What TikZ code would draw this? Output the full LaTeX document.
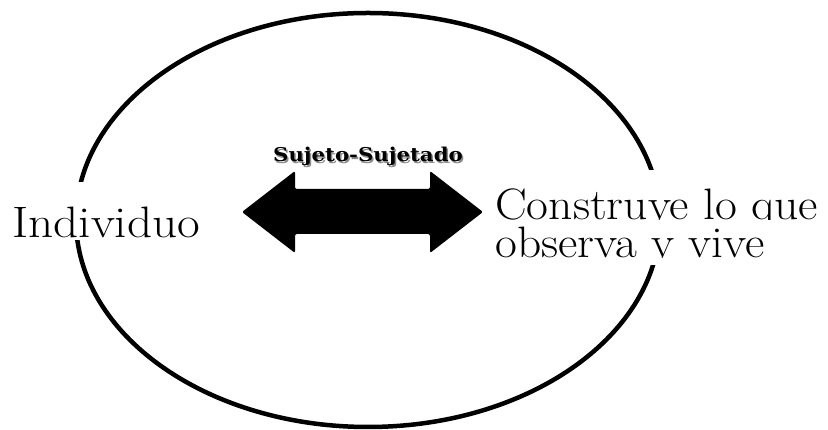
\documentclass[tikz,border=0pt]{standalone}
\usepackage{fontspec}
\newfontfamily\slabfont{DejaVu Serif}
\begin{document}
\begin{tikzpicture}[x=1pt,y=1pt,
  bigtext/.style={font=\fontsize{44}{44}\selectfont, inner sep=0pt, anchor=base west, text depth=0pt},
  whitebox/.style={fill=white, inner sep=0pt, draw=none},
  ring/.style={line width=4.5pt},
  bigarrow/.style={fill=black, rounded corners=2pt},
  labtext/.style={font=\slabfont\bfseries\fontsize{19}{19}\selectfont, anchor=base, inner sep=0pt}]
\useasboundingbox (0,0) rectangle (828,430);
% ellipse
\draw[ring] (368,210) ellipse [x radius=292, y radius=207];
% white backgrounds hiding the ring behind the texts
\node[whitebox, anchor=south west, minimum width=215, minimum height=58] (lbg) at (0,190) {};
\node[whitebox, anchor=south west, minimum width=343, minimum height=95] (rbg) at (485,165) {};
% texts
\node[bigtext] (ind) at (12,192) {\scalebox{1.12}[1]{Individuo}};
\begin{scope}
  \clip (485,210) rectangle (828,262);
  \node[bigtext] (con1) at (495,210) {\scalebox{1.08}[1]{Construye lo que}};
\end{scope}
\begin{scope}
  \clip (485,172) rectangle (828,209);
  \node[bigtext] (con2) at (495,172) {\scalebox{1.08}[1]{observa y vive}};
\end{scope}
% double arrow
\fill[bigarrow] (242,218) -- (295,259) -- (295,241) -- (430,241) -- (430,259) -- (483,218)
  -- (430,177) -- (430,196) -- (295,196) -- (295,177) -- cycle;
\coordinate (amid) at (368,268);
% label with shadow
\node[labtext, text=black!45] at ([xshift=1.5pt,yshift=-1.5pt]amid) {\scalebox{1.12}[1]{Sujeto-Sujetado}};
\node[labtext] (lab) at (amid) {\scalebox{1.12}[1]{Sujeto-Sujetado}};
\end{tikzpicture}
\end{document}
